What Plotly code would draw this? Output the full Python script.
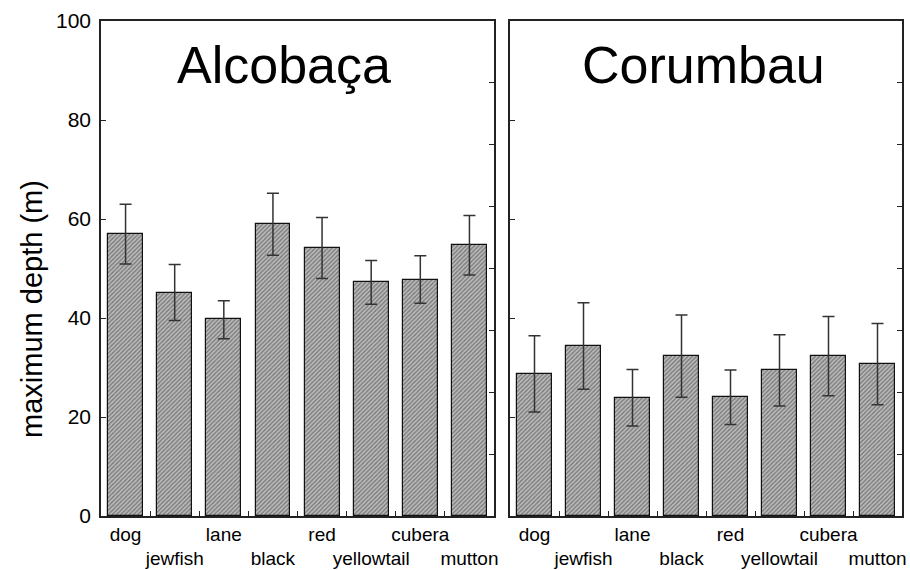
import plotly.graph_objects as go

species = ["dog", "jewfish", "lane", "black", "red", "yellowtail", "cubera", "mutton"]
tick_labels = ["dog", "<br>jewfish", "lane", "<br>black", "red", "<br>yellowtail", "cubera", "<br>mutton"]

alcobaca_mean = [57.0, 45.1, 39.7, 59.0, 54.2, 47.2, 47.7, 54.7]
alcobaca_upper = [63.0, 50.8, 43.5, 65.2, 60.3, 51.6, 52.6, 60.7]
alcobaca_lower = [50.9, 39.5, 35.8, 52.7, 48.0, 42.8, 43.0, 48.7]

corumbau_mean = [28.7, 34.3, 23.9, 32.3, 24.0, 29.4, 32.3, 30.7]
corumbau_upper = [36.4, 43.1, 29.6, 40.6, 29.5, 36.6, 40.3, 38.9]
corumbau_lower = [21.0, 25.6, 18.2, 24.0, 18.5, 22.2, 24.3, 22.5]

panel_titles = ["Alcobaça", "Corumbau"]
y_title = "maximum depth (m)"

FONT = "Liberation Sans, Arial, sans-serif"
AX = "#222222"
xpos = list(range(len(species)))

fig = go.Figure()

def add_panel(mean, upper, lower, xa, ya):
    fig.add_trace(go.Bar(
        x=xpos, y=mean, width=0.71, xaxis=xa, yaxis=ya,
        marker=dict(color="#b0b0b0", line=dict(color="#111111", width=1.2),
                    pattern=dict(shape="/", size=3, solidity=0.45,
                                 fgcolor="#383838", bgcolor="#bcbcbc")),
        error_y=dict(type="data", symmetric=False,
                     array=[u - m for u, m in zip(upper, mean)],
                     arrayminus=[m - l for m, l in zip(mean, lower)],
                     color="#333333", thickness=1.5, width=6),
        showlegend=False, hoverinfo="skip",
    ))

add_panel(alcobaca_mean, alcobaca_upper, alcobaca_lower, "x", "y")
add_panel(corumbau_mean, corumbau_upper, corumbau_lower, "x2", "y2")
# invisible anchors for the right-hand tick axes
fig.add_trace(go.Scatter(x=[0], y=[0], xaxis="x", yaxis="y3", mode="markers",
                         marker=dict(opacity=0), showlegend=False, hoverinfo="skip"))
fig.add_trace(go.Scatter(x=[0], y=[0], xaxis="x2", yaxis="y4", mode="markers",
                         marker=dict(opacity=0), showlegend=False, hoverinfo="skip"))

ydom = [54 / 570, 549 / 570]
xaxis_common = dict(
    range=[-0.5, 7.5], tickmode="array", tickvals=xpos, ticktext=tick_labels,
    tickangle=0, automargin=False,
    ticks="", showline=True, linecolor=AX, linewidth=1.5, mirror=True,
    showgrid=False, zeroline=False, tickfont=dict(family=FONT, size=19, color="black"),
    minor=dict(tickmode="array", tickvals=[i + 0.5 for i in range(7)],
               ticks="inside", ticklen=5, tickcolor=AX, tickwidth=1.2, showgrid=False),
)
yaxis_common = dict(
    range=[0, 100], tickmode="array", tickvals=[0, 20, 40, 60, 80, 100],
    ticks="inside", ticklen=5, tickcolor=AX, tickwidth=1.2, automargin=False,
    showline=True, linecolor=AX, linewidth=1.5, showgrid=False, zeroline=False,
    tickfont=dict(family=FONT, size=21, color="black"), ticklabelstandoff=4,
)
yright_common = dict(
    range=[0, 100], tickmode="array", tickvals=[12.5 * i for i in range(1, 8)],
    ticks="inside", ticklen=5, tickcolor=AX, tickwidth=1.2, side="right",
    showline=True, linecolor=AX, linewidth=1.5, showgrid=False, zeroline=False,
    showticklabels=False, automargin=False,
)

fig.update_layout(
    width=910, height=570,
    margin=dict(l=0, r=0, t=0, b=0),
    paper_bgcolor="white", plot_bgcolor="white",
    bargap=0,
    xaxis=dict(domain=[101 / 910, 494 / 910], anchor="y", **xaxis_common),
    xaxis2=dict(domain=[510 / 910, 902 / 910], anchor="y2", **xaxis_common),
    yaxis=dict(domain=ydom, anchor="x", showticklabels=True, **yaxis_common),
    yaxis2=dict(domain=ydom, anchor="x2", showticklabels=False, **yaxis_common),
    yaxis3=dict(overlaying="y", anchor="x", **yright_common),
    yaxis4=dict(overlaying="y2", anchor="x2", **yright_common),
    annotations=[
        dict(text=panel_titles[0], xref="paper", yref="y domain", x=283.5 / 910, y=0.911,
             xanchor="center", yanchor="middle", showarrow=False,
             font=dict(family=FONT, size=52, color="black")),
        dict(text=panel_titles[1], xref="paper", yref="y2 domain", x=703 / 910, y=0.911,
             xanchor="center", yanchor="middle", showarrow=False,
             font=dict(family=FONT, size=52, color="black")),
        dict(text=y_title, xref="paper", yref="paper", x=32 / 910, y=0.458,
             xanchor="center", yanchor="middle", textangle=-90, showarrow=False,
             font=dict(family=FONT, size=29, color="black")),
    ],
)

fig.write_html("out.html")
